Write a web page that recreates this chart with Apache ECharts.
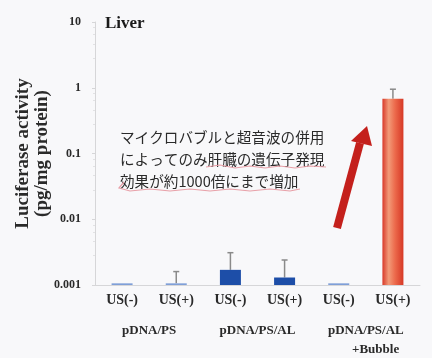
<!DOCTYPE html>
<html>
<head>
<meta charset="utf-8">
<script src="https://cdn.jsdelivr.net/npm/echarts@6/dist/echarts.min.js"></script>
<style>
  html, body { margin: 0; padding: 0; background: #f8f8fa; }
  #chart { width: 432px; height: 358px; }
</style>
</head>
<body>
<div id="chart"></div>
<script>
const categories = ["US(-)", "US(+)", "US(-)", "US(+)", "US(-)", "US(+)"];
const groups = ["pDNA/PS", "pDNA/PS/AL", "pDNA/PS/AL\n      +Bubble"];
const means = [0.00106, 0.00106, 0.0017, 0.0013, 0.00106, 0.68];
const errTop = [null, 0.0016, 0.0031, 0.0024, null, 0.95];
const yTicks = [0.001, 0.01, 0.1, 1, 10];
const yMin = 0.001;

const serif = "'Liberation Serif', 'DejaVu Serif', serif";
const jp = "'Noto Sans CJK JP', sans-serif";

const chart = echarts.init(document.getElementById("chart"));

const redFill = new echarts.graphic.LinearGradient(0, 0, 1, 0, [
  { offset: 0, color: "#d8392a" },
  { offset: 0.3, color: "#f29a78" },
  { offset: 0.6, color: "#ec6a4c" },
  { offset: 1, color: "#d63826" }
]);
const barColors = ["#7f9fd8", "#7f9fd8", "#1d4ea8", "#1d4ea8", "#7f9fd8", redFill];

chart.setOption({
  backgroundColor: "#f8f8fa",
  animation: false,
  grid: { left: 95, right: 12, top: 22, bottom: 73, outerBoundsMode: "none", containLabel: false },
  xAxis: [
    {
      type: "category",
      data: categories,
      axisLine: { lineStyle: { color: "#d6d6d8" } },
      axisTick: { show: false },
      axisLabel: {
        margin: 8,
        interval: 0,
        color: "#2a2a2a",
        fontFamily: serif,
        fontWeight: "bold",
        fontSize: 14
      }
    },
    {
      type: "category",
      data: groups,
      position: "bottom",
      offset: 28,
      axisLine: { show: false },
      axisTick: { show: false },
      axisLabel: {
        interval: 0,
        color: "#2a2a2a",
        fontFamily: serif,
        fontWeight: "bold",
        fontSize: 13,
        lineHeight: 19,
        verticalAlign: "top"
      }
    }
  ],
  yAxis: {
    type: "log",
    logBase: 10,
    min: yMin,
    max: 10,
    name: "Luciferase activity\n(pg/mg protein)",
    nameLocation: "middle",
    nameRotate: 90,
    nameGap: 43,
    nameMoveOverlap: false,
    nameTextStyle: {
      color: "#2a2a2a",
      fontFamily: serif,
      fontWeight: "bold",
      fontSize: 19,
      lineHeight: 19
    },
    axisLine: { show: true, lineStyle: { color: "#d6d6d8" } },
    axisTick: { show: true, length: 3, lineStyle: { color: "#d6d6d8" } },
    minorTick: { show: true, splitNumber: 5, length: 2, lineStyle: { color: "#e2e2e4" } },
    splitLine: { show: false },
    axisLabel: {
      margin: 14,
      color: "#2a2a2a",
      fontFamily: serif,
      fontWeight: "bold",
      fontSize: 12,
      formatter: v => {
        const t = yTicks.find(x => Math.abs(x - v) / x < 1e-6);
        return t === undefined ? "" : String(t);
      }
    }
  },
  series: [
    {
      // bars drawn from the axis minimum (log axis has no zero)
      type: "custom",
      z: 2,
      data: means.map((v, i) => [i, v]),
      renderItem: (params, api) => {
        const i = api.value(0);
        const top = api.coord([i, api.value(1)]);
        const base = api.coord([i, yMin]);
        const w = 21;
        return {
          type: "rect",
          shape: { x: top[0] - w / 2, y: top[1], width: w, height: base[1] - top[1] },
          style: { fill: barColors[params.dataIndex] }
        };
      }
    },
    {
      type: "custom",
      z: 1,
      data: means.map((v, i) => [i, v, errTop[i]]),
      renderItem: (params, api) => {
        const top = api.value(2);
        if (!top) return null;
        const p0 = api.coord([api.value(0), api.value(1)]);
        const p1 = api.coord([api.value(0), top]);
        const cap = 3;
        return {
          type: "group",
          children: [
            { type: "line", shape: { x1: p0[0], y1: p0[1], x2: p1[0], y2: p1[1] },
              style: { stroke: "#8a8a8a", lineWidth: 1.5 } },
            { type: "line", shape: { x1: p1[0] - cap, y1: p1[1], x2: p1[0] + cap, y2: p1[1] },
              style: { stroke: "#8a8a8a", lineWidth: 1.5 } }
          ]
        };
      }
    }
  ],
  graphic: [
    {
      type: "text", left: 105, top: 15,
      style: { text: "Liver", fontFamily: serif, fontWeight: "bold", fontSize: 17, fill: "#1a1a1a" }
    },
    {
      type: "text", left: 120, top: 126,
      style: {
        text: "マイクロバブルと超音波の併用\nによってのみ肝臓の遺伝子発現\n効果が約1000倍にまで増加",
        fontFamily: jp, fontSize: 14.6, lineHeight: 22, fill: "#2a2a2a"
      }
    },
    {
      type: "polyline",
      shape: { points: [[206, 167], [220, 165], [235, 168], [250, 166], [265, 168], [280, 166], [295, 168], [310, 166], [326, 167]] },
      style: { stroke: "#e8a0a8", lineWidth: 1.2, fill: null }
    },
    {
      type: "polyline",
      shape: { points: [[124, 182], [119, 188], [130, 191], [150, 189], [170, 191], [190, 189], [210, 191], [230, 189], [250, 191], [270, 189], [290, 191], [300, 189]] },
      style: { stroke: "#e8a0a8", lineWidth: 1.2, fill: null }
    },
    {
      type: "line",
      shape: { x1: 337, y1: 228, x2: 360, y2: 143 },
      style: { stroke: "#c4201c", lineWidth: 8, lineCap: "butt" }
    },
    {
      type: "polygon",
      shape: { points: [[367, 126], [351, 141], [372, 146]] },
      style: { fill: "#c4201c" }
    }
  ]
});
</script>
</body>
</html>
